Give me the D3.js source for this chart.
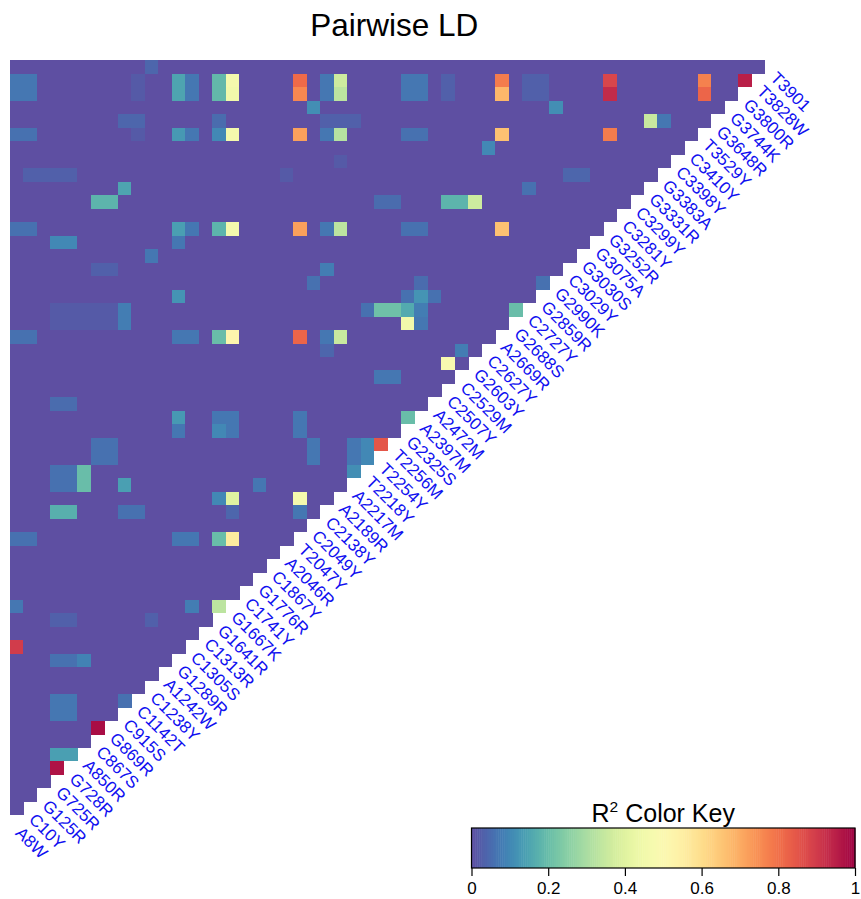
<!DOCTYPE html>
<html>
<head>
<meta charset="utf-8">
<script src="https://cdn.jsdelivr.net/npm/d3@7"></script>
<style>
  body { margin: 0; background: #fff; }
  svg text { font-family: "Liberation Sans", Arial, Helvetica, sans-serif; }
</style>
</head>
<body>
<script>
var snps = ["A8W","C10Y","G125R","G725R","G728R","A850R","C867S","G869R","C915S","C1142T",
  "C1238Y","A1242W","G1289R","C1305S","C1313R","G1641R","G1667K","C1741Y","G1776R","C1867Y",
  "A2046R","T2047Y","C2049Y","C2138Y","A2189R","A2217M","T2218Y","T2254Y","T2256M","G2325S",
  "A2397M","A2472M","C2507Y","C2529M","G2603Y","C2627Y","A2669R","G2688S","C2727Y","G2859R",
  "G2990K","C3029Y","G3030S","G3075A","G3252R","C3281Y","C3299Y","G3331R","G3383A","C3398Y",
  "C3410Y","T3529Y","G3648R","G3744K","G3800R","T3828W","T3901"];

// [snp i, snp j, r2] for pairs that are not ~0
var ldPairs = [
  [10,56,.04],
  [0,55,.07],[1,55,.07],[9,55,.02],[12,55,.15],[13,55,.07],[15,55,.19],[16,55,.46],[21,55,.81],[23,55,.07],[24,55,.36],
  [29,55,.07],[30,55,.07],[32,55,.03],[36,55,.78],[38,55,.03],[39,55,.03],[44,55,.88],[51,55,.77],[54,55,.95],
  [0,54,.07],[1,54,.07],[9,54,.02],[12,54,.15],[13,54,.07],[15,54,.19],[16,54,.45],[21,54,.76],[23,54,.07],[24,54,.33],
  [29,54,.07],[30,54,.07],[32,54,.03],[36,54,.68],[38,54,.03],[39,54,.03],[44,54,.93],[51,54,.82],
  [22,53,.11],[40,53,.11],
  [8,52,.04],[9,52,.04],[15,52,.05],[23,52,.03],[24,52,.03],[25,52,.03],[47,52,.35],[48,52,.07],
  [0,51,.06],[1,51,.06],[9,51,.02],[12,51,.13],[13,51,.07],[15,51,.1],[16,51,.46],[21,51,.72],[23,51,.07],[24,51,.32],
  [29,51,.06],[30,51,.06],[36,51,.66],[44,51,.78],
  [35,50,.1],
  [24,49,.02],
  [1,48,.03],[2,48,.03],[3,48,.03],[4,48,.03],[20,48,.02],[41,48,.04],[42,48,.04],
  [8,47,.15],[38,47,.06],
  [6,46,.18],[7,46,.18],[27,46,.05],[28,46,.05],[32,46,.18],[33,46,.18],[34,46,.36],
  [0,44,.06],[1,44,.06],[12,44,.14],[13,44,.07],[15,44,.18],[16,44,.46],[21,44,.72],[23,44,.07],[24,44,.33],
  [29,44,.06],[30,44,.06],[36,44,.66],
  [3,43,.1],[4,43,.1],[12,43,.07],
  [10,42,.07],
  [6,41,.03],[7,41,.03],[23,41,.08],
  [22,40,.06],[30,40,.05],[39,40,.06],
  [12,39,.12],[29,39,.06],[30,39,.12],[31,39,.06],
  [3,38,.02],[4,38,.02],[5,38,.02],[6,38,.02],[7,38,.02],[8,38,.08],[26,38,.06],[27,38,.21],[28,38,.21],[29,38,.16],
  [30,38,.08],[37,38,.2],
  [3,37,.02],[4,37,.02],[5,37,.02],[6,37,.02],[7,37,.02],[8,37,.08],[29,37,.45],[30,37,.07],
  [0,36,.06],[1,36,.06],[12,36,.07],[13,36,.07],[15,36,.2],[16,36,.52],[21,36,.82],[23,36,.07],[24,36,.35],
  [23,35,.04],[33,35,.08],
  [32,34,.48],
  [27,33,.07],[28,33,.07],
  [3,31,.05],[4,31,.05],
  [12,30,.13],[15,30,.07],[16,30,.07],[21,30,.07],[29,30,.2],
  [12,29,.07],[15,29,.1],[16,29,.07],[21,29,.07],
  [6,28,.06],[7,28,.06],[22,28,.07],[25,28,.07],[26,28,.1],[27,28,.85],
  [6,27,.06],[7,27,.06],[22,27,.07],[25,27,.07],[26,27,.1],
  [3,26,.06],[4,26,.06],[5,26,.2],[25,26,.11],
  [3,25,.06],[4,25,.06],[5,25,.2],[8,25,.14],[18,25,.07],
  [15,24,.1],[16,24,.4],[21,24,.46],
  [3,23,.17],[4,23,.17],[8,23,.06],[9,23,.06],[16,23,.04],[21,23,.07],
  [0,21,.06],[1,21,.06],[12,21,.07],[13,21,.07],[15,21,.2],[16,21,.56],
  [0,16,.07],[13,16,.08],[15,16,.33],
  [3,15,.03],[4,15,.03],[10,15,.03],
  [0,13,.9],
  [3,12,.06],[4,12,.06],[5,12,.09],
  [3,9,.07],[4,9,.07],[8,9,.06],
  [3,8,.07],[4,8,.07],
  [6,7,.98],
  [3,5,.14],[4,5,.14],
  [3,4,.97]
];

var keyTicks = [0, 0.2, 0.4, 0.6, 0.8, 1];

var w = 861, h = 899;
var n = snps.length;
var cell = 755 / (n - 1);
var gridLeft = 10, gridTop = 60;

var svg = d3.select("body").append("svg")
  .attr("width", w)
  .attr("height", h);

var x = d3.scaleLinear().domain([0, n]).range([gridLeft, gridLeft + n * cell]);
var y = d3.scaleLinear().domain([0, n]).range([gridTop + n * cell, gridTop]);
var color = function(v) { return d3.interpolateSpectral(1 - v); };

var lookup = new Map();
ldPairs.forEach(function(d) { lookup.set(d[0] + "," + d[1], d[2]); });

var cells = [];
for (var j = 1; j < n; j++) {
  for (var i = 0; i < j; i++) {
    cells.push({ i: i, j: j, v: lookup.get(i + "," + j) || 0 });
  }
}

svg.append("g")
  .selectAll("rect")
  .data(cells)
  .enter()
  .append("rect")
  .attr("x", function(d) { return x(d.i); })
  .attr("y", function(d) { return y(d.j + 1); })
  .attr("width", cell + 0.4)
  .attr("height", cell + 0.4)
  .attr("shape-rendering", "crispEdges")
  .attr("fill", function(d) { return color(d.v); });

// snp names along the diagonal
svg.append("g")
  .selectAll("text")
  .data(snps)
  .enter()
  .append("text")
  .attr("transform", function(d, k) {
    return "translate(" + (x(k) + cell / 2) + "," + (y(k + 1) + cell / 2) + ") rotate(45)";
  })
  .attr("dx", 7)
  .attr("dy", "0.6em")
  .attr("font-size", 17)
  .attr("fill", "#1010f0")
  .text(function(d) { return d; });

svg.append("text")
  .attr("x", x(n / 2))
  .attr("y", 36)
  .attr("text-anchor", "middle")
  .attr("font-size", 31.5)
  .text("Pairwise LD");

// colour key
var kx = d3.scaleLinear().domain([0, 1]).range([471.5, 855]);
var key = svg.append("g");
var steps = d3.range(0, 1, 0.005);
key.selectAll("rect")
  .data(steps)
  .enter()
  .append("rect")
  .attr("x", function(d) { return kx(d); })
  .attr("y", 828)
  .attr("width", kx(0.005) - kx(0) + 0.5)
  .attr("height", 40)
  .attr("fill", function(d) { return color(d + 0.0025); });

key.append("rect")
  .attr("x", kx(0))
  .attr("y", 828)
  .attr("width", kx(1) - kx(0))
  .attr("height", 40)
  .attr("fill", "none")
  .attr("stroke", "#000")
  .attr("stroke-width", 1.2);

key.append("g")
  .attr("transform", "translate(0,868)")
  .call(d3.axisBottom(kx).tickValues(keyTicks).tickSize(8).tickFormat(d3.format("")))
  .call(function(g) {
    g.attr("font-size", null).attr("font-family", null);
    g.select(".domain").remove();
    g.selectAll("line").attr("stroke", "#000").attr("stroke-width", 1.2);
    g.selectAll("text").attr("font-size", 17).attr("fill", "#000").attr("dy", "0.9em");
  });

var kt = key.append("text")
  .attr("x", (kx(0) + kx(1)) / 2)
  .attr("y", 822)
  .attr("text-anchor", "middle")
  .attr("font-size", 25);
kt.append("tspan").text("R");
kt.append("tspan").attr("font-size", 15.5).attr("dy", -10).text("2");
kt.append("tspan").attr("dy", 10).text(" Color Key");
</script>
</body>
</html>
